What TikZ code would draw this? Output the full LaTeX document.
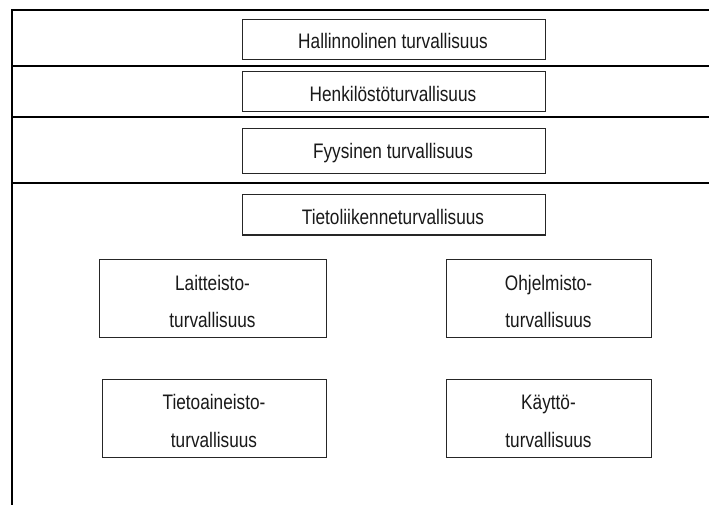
\documentclass[tikz,border=0pt]{standalone}
\usepackage{fontspec}
\setmainfont{Liberation Sans}[FakeStretch=0.82]
\begin{document}
\begin{tikzpicture}[x=1pt,y=-1pt,
  frameline/.style={line width=2.3pt,black},
  sbox/.style={draw=black!85,line width=1.2pt,rectangle,inner sep=0pt,anchor=north west},
  txt/.style={anchor=base,inner sep=0pt,font=\fontsize{21}{25}\selectfont,text=black!90}]
\useasboundingbox (0,0) rectangle (709,505);
\fill[white] (0,0) rectangle (709,505);
% frame
\coordinate (tr) at (712,10);
\coordinate (tl) at (12,10);
\coordinate (bl) at (12,508);
\draw[frameline] (tr) -- (tl) -- (bl);
\coordinate (l1a) at (12,66);  \coordinate (l1b) at (712,66);
\coordinate (l2a) at (12,117); \coordinate (l2b) at (712,117);
\coordinate (l3a) at (12,183); \coordinate (l3b) at (712,183);
\draw[frameline] (l1a) -- (l1b);
\draw[frameline] (l2a) -- (l2b);
\draw[frameline] (l3a) -- (l3b);
% top boxes
\node[sbox,minimum width=303pt,minimum height=40pt] (b1) at (242,19) {};
\node[txt] (t1) at (393,48.3) {Hallinnolinen turvallisuus};
\node[sbox,minimum width=303pt,minimum height=40pt] (b2) at (242,71) {};
\node[txt] (t2) at (393,101.5) {Henkilöstöturvallisuus};
\node[sbox,minimum width=303pt,minimum height=45pt] (b3) at (242,128) {};
\node[txt] (t3) at (393,159) {Fyysinen turvallisuus};
\node[sbox,minimum width=303pt,minimum height=40pt] (b4) at (242,194.3) {};
\node[txt] (t4) at (393,224) {Tietoliikenneturvallisuus};
% lower boxes
\node[sbox,minimum width=227pt,minimum height=78pt] (b5) at (99,259) {};
\node[txt] (t5a) at (212.5,290) {Laitteisto-};
\node[txt] (t5b) at (212.5,327) {turvallisuus};
\node[sbox,minimum width=205pt,minimum height=78pt] (b6) at (446,259) {};
\node[txt] (t6a) at (548.5,290) {Ohjelmisto-};
\node[txt] (t6b) at (548.5,327) {turvallisuus};
\node[sbox,minimum width=224pt,minimum height=78pt] (b7) at (102,379) {};
\node[txt] (t7a) at (214,409.3) {Tietoaineisto-};
\node[txt] (t7b) at (214,447) {turvallisuus};
\node[sbox,minimum width=205pt,minimum height=78pt] (b8) at (446,379) {};
\node[txt] (t8a) at (548.5,409.3) {Käyttö-};
\node[txt] (t8b) at (548.5,447) {turvallisuus};
\end{tikzpicture}
\end{document}
